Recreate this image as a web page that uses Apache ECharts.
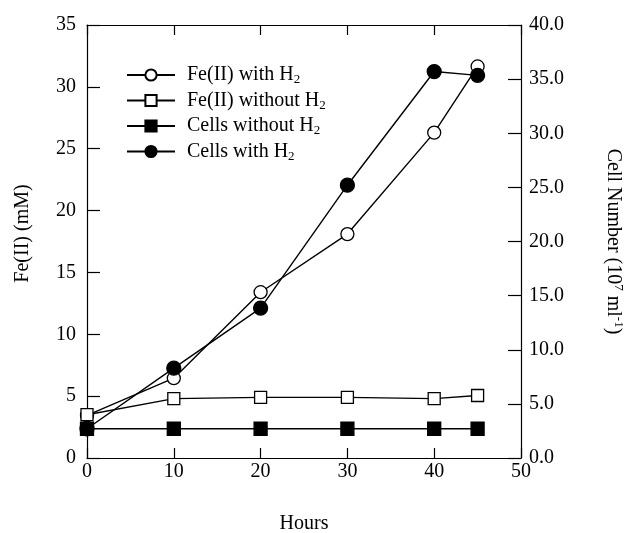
<!DOCTYPE html>
<html>
<head>
<meta charset="utf-8">
<script src="https://cdn.jsdelivr.net/npm/echarts@6/dist/echarts.min.js"></script>
<style>
html,body{margin:0;padding:0;background:#fff;}
#c{width:625px;height:533px;}
</style>
</head>
<body>
<div id="c"></div>
<script>
var hours = [0, 10, 20, 30, 40, 45];
var feWithH2 = [3.45, 6.45, 13.4, 18.1, 26.3, 31.65];
var feWithoutH2 = [3.5, 4.8, 4.9, 4.9, 4.8, 5.05];
var cellsWithoutH2 = [2.7, 2.7, 2.7, 2.7, 2.7, 2.7];
var cellsWithH2 = [2.7, 8.3, 13.85, 25.2, 35.7, 35.35];
var seriesNames = ['Fe(II) with H2', 'Fe(II) without H2', 'Cells without H2', 'Cells with H2'];

function pairs(vals){ return hours.map(function(h,i){ return [h, vals[i]]; }); }

var FONT = 'Liberation Serif';
var FS = 20;
var chart = echarts.init(document.getElementById('c'), null, {renderer:'canvas'});

function mkSeries(name, data, symbol, filled, yIdx, size){
  return {
    name: name, type: 'line', yAxisIndex: yIdx, data: pairs(data),
    symbol: symbol, symbolSize: size, showAllSymbol: true,
    lineStyle: {color: '#000', width: 1.4},
    itemStyle: {color: filled ? '#000' : '#fff', borderColor: '#000', borderWidth: 1.3},
    emphasis: {disabled: true},
    animation: false
  };
}

var axisLineStyle = {color: '#000', width: 1.2};

var option = {
  backgroundColor: '#fff',
  animation: false,
  grid: {left: 87, right: 104, top: 25, bottom: 75, containLabel: false, outerBoundsMode: 'none'},
  legend: {
    orient: 'vertical', left: 121, top: 60, itemWidth: 48, itemHeight: 14, itemGap: 4,
    data: seriesNames,
    formatter: function(n){ return '{a|' + n.slice(0, -1) + '}{s|2}'; },
    textStyle: {
      fontFamily: FONT, fontSize: FS, color: '#000', padding: [0,0,0,7],
      rich: {a: {fontFamily: FONT, fontSize: FS, color: '#000', lineHeight: 24}, s: {fontFamily: FONT, fontSize: 13, color: '#000', padding: [10,0,0,0]}}
    }
  },
  xAxis: [{
    type: 'value', min: 0, max: 50, interval: 10, position: 'bottom',
    name: 'Hours', nameLocation: 'middle', nameGap: 56,
    nameTextStyle: {fontFamily: FONT, fontSize: FS, color: '#000'},
    axisLine: {onZero: false, lineStyle: axisLineStyle},
    axisTick: {inside: true, length: 10, lineStyle: axisLineStyle},
    axisLabel: {fontFamily: FONT, fontSize: FS, color: '#000', margin: 4},
    splitLine: {show: false}
  }, {
    type: 'value', min: 0, max: 50, interval: 10, position: 'top',
    axisLine: {show: true, onZero: false, lineStyle: axisLineStyle},
    axisTick: {inside: true, length: 10, lineStyle: axisLineStyle},
    axisLabel: {show: false}, splitLine: {show: false}
  }],
  yAxis: [{
    type: 'value', min: 0, max: 35, interval: 5, position: 'left',
    name: 'Fe(II) (mM)', nameLocation: 'middle', nameGap: 54, nameRotate: 90,
    nameTextStyle: {fontFamily: FONT, fontSize: FS, color: '#000', padding: [0,0,0,16]},
    axisLine: {show: true, onZero: false, lineStyle: axisLineStyle},
    axisTick: {show: true, inside: true, length: 13, lineStyle: axisLineStyle},
    axisLabel: {fontFamily: FONT, fontSize: FS, color: '#000', margin: 11},
    splitLine: {show: false}
  }, {
    type: 'value', min: 0, max: 40, interval: 5, position: 'right',
    name: '{a|Cell Number (10}{s|7}{a| ml}{s|-1}{a|)}', nameLocation: 'middle', nameGap: 81, nameRotate: -90,
    nameTextStyle: {fontFamily: FONT, fontSize: FS, color: '#000',
      rich: {a: {fontFamily: FONT, fontSize: FS, color: '#000'}, s: {fontFamily: FONT, fontSize: 13, color: '#000', padding: [0,0,10,0]}}},
    axisLine: {show: true, onZero: false, lineStyle: axisLineStyle},
    axisTick: {show: true, inside: true, length: 13, lineStyle: axisLineStyle},
    axisLabel: {fontFamily: FONT, fontSize: FS, color: '#000', margin: 8, formatter: function(v){ return v.toFixed(1); }},
    splitLine: {show: false}
  }],
  series: [
    mkSeries(seriesNames[0], feWithH2, 'circle', false, 0, 13),
    mkSeries(seriesNames[1], feWithoutH2, 'rect', false, 0, 12),
    mkSeries(seriesNames[2], cellsWithoutH2, 'rect', true, 1, 13),
    mkSeries(seriesNames[3], cellsWithH2, 'circle', true, 1, 14)
  ]
};
chart.setOption(option);
</script>
</body>
</html>
